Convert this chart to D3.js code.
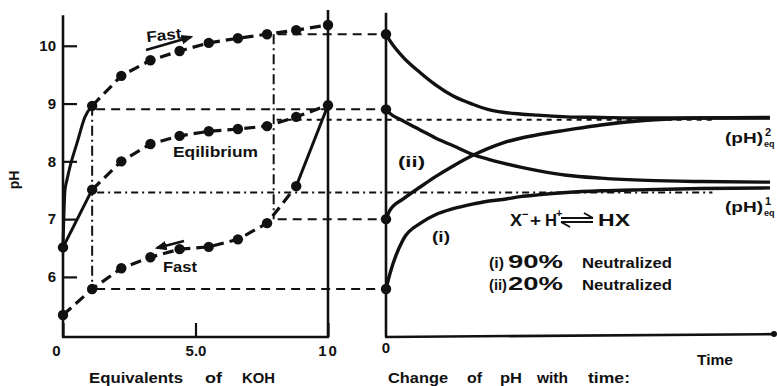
<!DOCTYPE html>
<html>
<head>
<meta charset="utf-8">
<script src="https://cdn.jsdelivr.net/npm/d3@7/dist/d3.min.js"></script>
<style>
  body { margin: 0; background: #fff; }
  text { font-family: "Liberation Sans", Arial, sans-serif; font-weight: bold; fill: #111; }
</style>
</head>
<body>
<svg id="chart" width="777" height="386"></svg>
<script>
// ---- Titration with KOH: pH against equivalents added ----
const eqv          = [0, 1.1, 2.2, 3.3, 4.4, 5.5, 6.6, 7.7, 8.8, 10];
const fastForward  = [6.51, 8.96, 9.48, 9.75, 9.91, 10.05, 10.13, 10.20, 10.27, 10.36];
const equilibrium  = [6.51, 7.51, 8.00, 8.30, 8.44, 8.52, 8.56, 8.61, 8.77, 8.97];
const fastReverse  = [5.34, 5.79, 6.15, 6.34, 6.48, 6.52, 6.65, 6.93, 7.57, 8.97];

// steep initial rise of the fast forward titration (before the first addition)
const riseEqv = [0, 0.075, 0.15, 0.26, 0.53, 0.83, 1.1];
const risePH  = [6.51, 7.50, 7.68, 7.90, 8.32, 8.77, 8.96];

// ---- Relaxation of pH with time after stopping the titration ----
const time    = [0, 0.1, 0.45, 0.9, 1.3, 1.75, 2.25, 2.65, 3.05, 3.5, 3.95, 4.7, 5.6, 6.8, 8.2, 10];
const fromHigh2 = [10.20, 10.09, 9.80, 9.53, 9.32, 9.13, 8.99, 8.90, 8.85, 8.82, 8.80, 8.77, 8.76, 8.75, 8.75, 8.75];
const fromLow2  = [7.00, 7.15, 7.35, 7.56, 7.74, 7.92, 8.10, 8.22, 8.32, 8.40, 8.46, 8.54, 8.63, 8.71, 8.75, 8.76];
const fromHigh1 = [8.90, 8.83, 8.70, 8.54, 8.40, 8.27, 8.12, 8.04, 7.97, 7.90, 7.84, 7.76, 7.71, 7.67, 7.65, 7.64];
const fromLow1  = [5.79, 6.05, 6.65, 6.93, 7.08, 7.18, 7.26, 7.31, 7.34, 7.39, 7.42, 7.46, 7.49, 7.51, 7.53, 7.54];

const startPH = [10.20, 8.90, 7.00, 5.79];   // starting values marked on the time axis
const pHeq2 = 8.72;
const pHeq1 = 7.46;
const stopEqv = [1.1, 7.95];                // additions at which the titration was stopped

const pHTicks  = [6, 7, 8, 9, 10];
const eqvTicks = [0, 5, 10];
const eqvTickLabels = ["0", "5.0", "10"];

// ---- scales ----
const svg = d3.select("#chart");
const y  = d3.scaleLinear().domain([4.96, 10.55]).range([337, 14]);
const xL = d3.scaleLinear().domain([0, 10]).range([63, 328]);
const xR = d3.scaleLinear().domain([0, 10]).range([386, 770]);

const ink = "#111";

// ---- left axes ----
const yAxis = d3.axisLeft(y).tickValues(pHTicks).tickFormat(d3.format("d"))
  .tickSizeInner(-14).tickSizeOuter(0).tickPadding(7);
const gy = svg.append("g").attr("transform", `translate(${xL(0)},0)`).call(yAxis);
gy.select(".domain").remove();
gy.selectAll(".tick line").attr("stroke", ink).attr("stroke-width", 2.2);
gy.selectAll("text").attr("font-size", 15).attr("fill", ink);

const xAxis = d3.axisBottom(xL).tickValues(eqvTicks)
  .tickFormat((d, i) => eqvTickLabels[i]).tickSizeInner(-14).tickSizeOuter(0).tickPadding(8);
const gx = svg.append("g").attr("transform", `translate(0,${y(4.96)})`).call(xAxis);
gx.select(".domain").remove();
gx.selectAll(".tick line").attr("stroke", ink).attr("stroke-width", 2.2);
gx.selectAll("text").attr("font-size", 15).attr("fill", ink);
gx.selectAll(".tick").filter(d => d === 0).select("text").attr("dx", -7);
gx.selectAll(".tick").filter(d => d === 10).select("text").attr("letter-spacing", 2);

// frame lines
const frame = [
  [xL(0), y(4.96), xL(0), y(10.53)],
  [xL(0) - 1, y(4.96), xL(10) + 1, y(4.96)],
  [xL(10), y(4.96), xL(10), y(10.62)],
  [xR(0), y(4.96), xR(0), y(10.57)],
  [xR(0) - 1, y(4.96), xR(10) + 4, y(5.01)]
];
svg.append("g").selectAll("line").data(frame).join("line")
  .attr("x1", d => d[0]).attr("y1", d => d[1]).attr("x2", d => d[2]).attr("y2", d => d[3])
  .attr("stroke", ink).attr("stroke-width", 2.6);
svg.append("circle").attr("cx", xR(10) + 4).attr("cy", y(5.01)).attr("r", 3).attr("fill", ink);

// ---- reference lines ----
const ref = svg.append("g").attr("fill", "none").attr("stroke", ink);
// horizontal dashed projections to the time axis
const proj = [
  [stopEqv[1], startPH[0]],
  [stopEqv[0], startPH[1]],
  [stopEqv[1], startPH[2]],
  [stopEqv[0], startPH[3]]
];
ref.selectAll("line.proj").data(proj).join("line").attr("class", "proj")
  .attr("x1", d => xL(d[0]) + 4).attr("x2", xR(0))
  .attr("y1", d => y(d[1])).attr("y2", d => y(d[1]))
  .attr("stroke-width", 2).attr("stroke-dasharray", "9,6");
// vertical dash-dot lines at the stopping points
ref.append("line")
  .attr("x1", xL(stopEqv[0])).attr("x2", xL(stopEqv[0]))
  .attr("y1", y(fastForward[1])).attr("y2", y(startPH[3]))
  .attr("stroke-width", 2).attr("stroke-dasharray", "10,4,2,4");
ref.append("line")
  .attr("x1", xL(stopEqv[1])).attr("x2", xL(stopEqv[1]))
  .attr("y1", y(startPH[0])).attr("y2", y(startPH[2]))
  .attr("stroke-width", 2).attr("stroke-dasharray", "10,4,2,4");
// equilibrium pH levels
ref.append("line")
  .attr("x1", xL(stopEqv[1]) + 3).attr("x2", xR(8.5))
  .attr("y1", y(pHeq2)).attr("y2", y(pHeq2))
  .attr("stroke-width", 2).attr("stroke-dasharray", "5,5");
ref.append("line")
  .attr("x1", xL(stopEqv[0]) + 5).attr("x2", xR(8.5))
  .attr("y1", y(pHeq1)).attr("y2", y(pHeq1))
  .attr("stroke-width", 2).attr("stroke-dasharray", "7,4,2,4");

// ---- left panel curves ----
const lineL = d3.line().x(d => xL(d[0])).y(d => y(d[1]));
const curves = svg.append("g").attr("fill", "none").attr("stroke", ink).attr("stroke-linecap", "butt");

const fwdPts  = eqv.map((e, i) => [e, fastForward[i]]);
const eqPts   = eqv.map((e, i) => [e, equilibrium[i]]);
const revPts  = eqv.map((e, i) => [e, fastReverse[i]]);
const risePts = riseEqv.map((e, i) => [e, risePH[i]]);

curves.append("path").attr("d", lineL.curve(d3.curveMonotoneX)(risePts)).attr("stroke-width", 3);
lineL.curve(d3.curveLinear);
curves.append("path").attr("d", lineL(fwdPts.slice(1))).attr("stroke-width", 3.2).attr("stroke-dasharray", "11,6");
curves.append("path").attr("d", lineL(eqPts.slice(0, 2))).attr("stroke-width", 3);
curves.append("path").attr("d", lineL(eqPts.slice(1))).attr("stroke-width", 3.2).attr("stroke-dasharray", "11,6");
curves.append("path").attr("d", lineL(revPts.slice(0, 9))).attr("stroke-width", 3.2).attr("stroke-dasharray", "11,6");
curves.append("path").attr("d", lineL(revPts.slice(8))).attr("stroke-width", 3);

const dots = svg.append("g").attr("fill", ink);
dots.selectAll("circle.f").data(fwdPts).join("circle").attr("class", "f")
  .attr("cx", d => xL(d[0])).attr("cy", d => y(d[1])).attr("r", 5.2);
dots.selectAll("circle.e").data(eqPts.slice(1)).join("circle").attr("class", "e")
  .attr("cx", d => xL(d[0])).attr("cy", d => y(d[1])).attr("r", 5.2);
dots.selectAll("circle.r").data(revPts.slice(0, 9)).join("circle").attr("class", "r")
  .attr("cx", d => xL(d[0])).attr("cy", d => y(d[1])).attr("r", 5.2);

// ---- right panel curves ----
const lineR = d3.line().x(d => xR(d[0])).y(d => y(d[1])).curve(d3.curveMonotoneX);
[fromHigh2, fromLow2, fromHigh1, fromLow1].forEach(series => {
  curves.append("path").attr("d", lineR(time.map((t, i) => [t, series[i]])))
    .attr("stroke-width", 3.4);
});
dots.selectAll("circle.s").data(startPH).join("circle").attr("class", "s")
  .attr("cx", xR(0)).attr("cy", d => y(d)).attr("r", 5.2);

// ---- arrows next to the "Fast" labels ----
svg.append("defs").append("marker").attr("id", "head")
  .attr("viewBox", "0 0 10 10").attr("refX", 8).attr("refY", 5)
  .attr("markerWidth", 5).attr("markerHeight", 5).attr("orient", "auto")
  .append("path").attr("d", "M0,1 L10,5 L0,9 Z").attr("fill", ink);
svg.append("line").attr("x1", 146).attr("y1", 50).attr("x2", 191).attr("y2", 37)
  .attr("stroke", ink).attr("stroke-width", 2.4).attr("marker-end", "url(#head)");
svg.append("line").attr("x1", 184).attr("y1", 241).attr("x2", 157).attr("y2", 248)
  .attr("stroke", ink).attr("stroke-width", 2.4).attr("marker-end", "url(#head)");

// ---- text ----
const label = (x, yy, s, size, width) => {
  const t = svg.append("text").attr("x", x).attr("y", yy).attr("font-size", size).text(s);
  if (width) t.attr("textLength", width).attr("lengthAdjust", "spacingAndGlyphs");
  return t;
};
label(147, 42, "Fast", 15, 35).attr("transform", "rotate(-6,147,42)");
label(163, 272, "Fast", 15, 34);
label(173, 157, "Eqilibrium", 15, 85);
label(14, 180, "pH", 14).attr("text-anchor", "middle")
  .attr("transform", "rotate(-90,14,180)").attr("dy", "0.35em");

// axis titles, word by word
[["Equivalents", 89, 94], ["of", 205, 17], ["KOH", 242, 33]]
  .forEach(([w, x, len]) => label(x, 383, w, 15, len));
[["Change", 388, 60], ["of", 467, 15], ["pH", 500, 22], ["with", 537, 31], ["time:", 588, 42]]
  .forEach(([w, x, len]) => label(x, 383, w, 15, len));
label(386, 353, "0", 15).attr("text-anchor", "middle");
label(697, 365, "Time", 15, 36);

// equilibrium level labels
const eqLab = (x, yy, sup) => {
  label(x, yy, "(pH)", 15, 38);
  label(x + 40, yy - 7, sup, 11);
  label(x + 39, yy + 4, "eq", 9);
};
eqLab(725, 143, "2");
eqLab(725, 212, "1");

label(398, 167, "(ii)", 15, 27);
label(432, 242, "(i)", 15, 18);

// reaction scheme: X⁻ + H⁺ ⇌ HX
label(510, 226, "X", 16, 12);
label(522, 218, "−", 11);
label(530, 226, "+", 16, 11);
label(545, 226, "H", 16, 12);
label(556, 217, "+", 11);
svg.append("path")
  .attr("d", "M561,218 L593,218 M593,218 L584,213 M593,222 L561,222 M561,222 L570,227")
  .attr("fill", "none").attr("stroke", ink).attr("stroke-width", 2);
label(598, 226, "HX", 16, 32);

const legend = [["(i)", "90%", 268, 15], ["(ii)", "20%", 290, 18]];
legend.forEach(([a, b, yy, w]) => {
  label(489, yy, a, 15, w);
  label(508, yy, b, 18, 55);
  label(582, yy, "Neutralized", 15, 90);
});
</script>
</body>
</html>
